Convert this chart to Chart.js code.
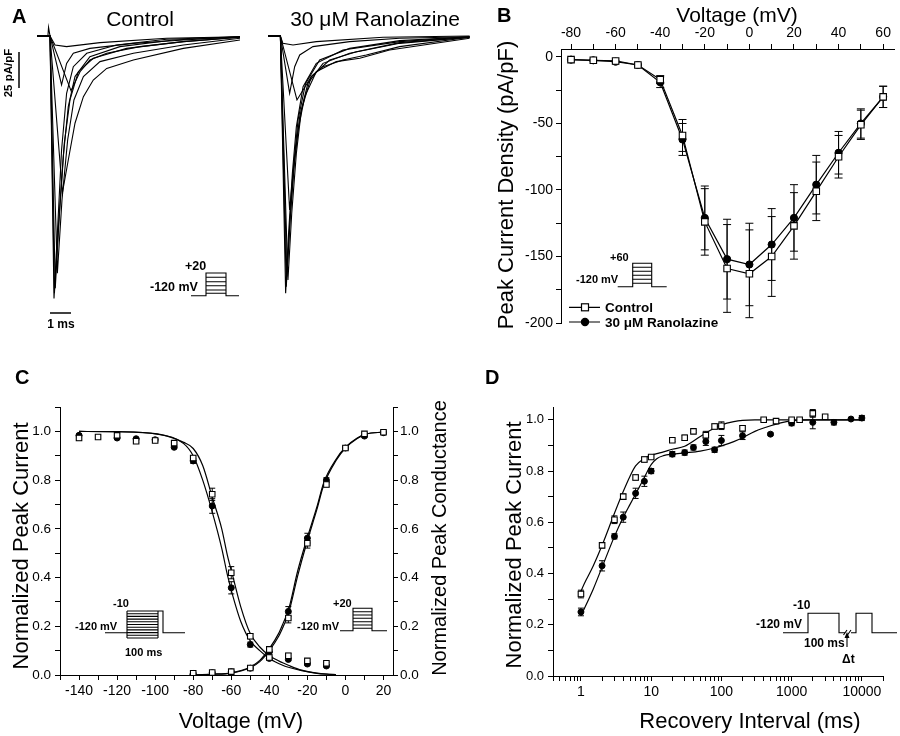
<!DOCTYPE html>
<html>
<head>
<meta charset="utf-8">
<script src="https://cdn.jsdelivr.net/npm/chart.js@4.4.1/dist/chart.umd.min.js"></script>
<style>
  body { margin: 0; background: #fff; width: 900px; height: 736px; position: relative; overflow: hidden; }
  canvas, svg { position: absolute; }
  svg { left: 0; top: 0; }
</style>
</head>
<body>
<canvas id="traceControl" width="203" height="285" style="left:37px;top:20px"></canvas>
<canvas id="traceRanolazine" width="202" height="285" style="left:268px;top:20px"></canvas>
<canvas id="ivChart" width="410" height="345" style="left:490px;top:0px"></canvas>
<canvas id="gvChart" width="450" height="341" style="left:0px;top:395px"></canvas>
<canvas id="recChart" width="410" height="341" style="left:490px;top:395px"></canvas>

<svg width="900" height="736" font-family="'Liberation Sans', Arial, sans-serif">
  <!-- panel letters -->
  <g font-weight="bold" font-size="20">
    <text x="12" y="23">A</text>
    <text x="497" y="22">B</text>
    <text x="15" y="384">C</text>
    <text x="485" y="384">D</text>
  </g>
  <!-- titles -->
  <g font-size="21" text-anchor="middle">
    <text x="140" y="26">Control</text>
    <text x="375" y="26">30 μM Ranolazine</text>
    <text x="737" y="22">Voltage (mV)</text>
    <text x="241" y="728" font-size="21.5">Voltage (mV)</text>
    <text x="750" y="728" font-size="22">Recovery Interval (ms)</text>
    <text transform="translate(513,185) rotate(-90)" font-size="22">Peak Current Density (pA/pF)</text>
    <text transform="translate(28,546) rotate(-90)" font-size="22">Normalized Peak Current</text>
    <text transform="translate(446,538) rotate(-90)" font-size="20">Normalized Peak Conductance</text>
    <text transform="translate(521,545) rotate(-90)" font-size="22">Normalized Peak Current</text>
  </g>
  <!-- scale bars (A) -->
  <g stroke="#000" stroke-width="1.5" fill="none">
    <path d="M19 52V88"/>
    <path d="M50 313H71"/>
  </g>
  <g font-weight="bold" font-size="11.5">
    <text transform="translate(12,73) rotate(-90)" text-anchor="middle">25 pA/pF</text>
    <text x="61" y="328" text-anchor="middle" font-size="12">1 ms</text>
  </g>
  <!-- voltage protocols -->
  <g stroke="#000" stroke-width="1.1" fill="none">
    <path d="M191 295.7H206V273H226V295.7H239"/>
    <path d="M206 277.3H226M206 281.7H226M206 285.7H226M206 290H226M206 293.3H226"/>
    <path d="M617.7 286.7H632.7V263.3H651.7V286.7H666.7"/>
    <path d="M632.7 267.3H651.7M632.7 271.3H651.7M632.7 275.3H651.7M632.7 279.3H651.7M632.7 283.3H651.7"/>
    <path d="M105 632.7H127M127 611V638M158 611V638M158 611H163V632.7H185"/>
    <path d="M127 611H158M127 613.7H158M127 616.4H158M127 619.1H158M127 621.8H158M127 624.5H158M127 627.2H158M127 629.9H158M127 632.6H158M127 635.3H158M127 638H158"/>
    <path d="M340 630.7H353V608.3H372V630.7H387"/>
    <path d="M353 611.7H372M353 615H372M353 618.3H372M353 621.7H372M353 625H372M353 628.3H372"/>
    <path d="M783 632.7H808V613.3H839V632.7H845M851 632.7H856V613.3H872V632.7H897"/>
    <path d="M843.5 635L847 630M847.5 635L851 630M847 647V637"/>
  </g>
  <polygon points="847,632 844.5,638 849.5,638" fill="#000"/>
  <g font-weight="bold">
    <text x="185" y="270" font-size="12.5">+20</text>
    <text x="150" y="291" font-size="12.5">-120 mV</text>
    <text x="610" y="261" font-size="11">+60</text>
    <text x="576" y="283" font-size="11">-120 mV</text>
    <text x="113" y="607" font-size="11">-10</text>
    <text x="75" y="630" font-size="11">-120 mV</text>
    <text x="125" y="656" font-size="11">100 ms</text>
    <text x="333" y="607" font-size="11">+20</text>
    <text x="297" y="630" font-size="11">-120 mV</text>
    <text x="793" y="609" font-size="12">-10</text>
    <text x="756" y="628" font-size="12">-120 mV</text>
    <text x="804" y="647" font-size="12">100 ms</text>
    <text x="842" y="663" font-size="12">Δt</text>
  </g>
  <!-- legend (B) -->
  <g stroke="#000" stroke-width="1.2">
    <path d="M569 307.3H600M569 322H600"/>
    <rect x="581.5" y="303.8" width="7" height="7" fill="#fff"/>
    <circle cx="585" cy="322" r="3.6" fill="#000"/>
  </g>
  <g font-weight="bold" font-size="13.5">
    <text x="605" y="312">Control</text>
    <text x="605" y="327">30 μM Ranolazine</text>
  </g>
</svg>

<script>
// ---- Panel A: current traces, time (ms) vs current density (pA/pF)
const controlTraces = [
  [[0, 0], [0.62, 0], [0.86, -6.3], [1.41, -7.4], [3.0, -4.6], [6.17, -1.6], [9.67, -0.5]],
  [[0, 0], [0.62, 0], [1.17, -34], [1.41, -19], [1.73, -12], [2.52, -8.6], [4.59, -5.1], [6.97, -2.8], [9.67, -0.5]],
  [[0, 0], [0.62, 0], [1.62, -38], [2.05, -24.8], [2.52, -16.7], [3.32, -12], [4.9, -7.4], [6.97, -3.9], [9.67, -0.9]],
  [[0, 0], [0.62, 0], [1.21, -108.8], [1.49, -86.1], [1.81, -60.6], [2.21, -42.1], [2.68, -30.6], [3.32, -22.5], [4.59, -16.7], [6.97, -8.6], [9.67, -2.8]],
  [[0, 0], [0.62, 0], [0.97, -164.8], [1.19, -113.9], [1.46, -72.2], [1.76, -44.4], [2.21, -28.2], [3.0, -17.8], [4.59, -12], [6.97, -6.3], [9.67, -1.6]],
  [[0, 0], [0.62, 0], [0.87, -175.2], [1.06, -125.5], [1.3, -74.5], [1.57, -44.4], [1.97, -24.8], [2.68, -15.5], [4.27, -8.6], [6.97, -3.9], [9.67, -0.9]],
  [[0, 0], [0.52, 0], [0.55, 6], [0.62, 0], [0.81, -182.2], [0.97, -137], [1.17, -79.2], [1.41, -39.8], [1.73, -21.3], [2.37, -12], [3.79, -6.3], [6.17, -2.3], [9.67, -0.5]],
  [[0, 0], [0.62, 0], [0.83, -178.7], [1.02, -132.4], [1.25, -83.8], [1.49, -49], [1.81, -28.2], [2.52, -14.4], [3.95, -7.4], [6.49, -2.8], [9.67, -0.5]]
];
const ranolazineTraces = [
  [[0, 0], [0.59, 0], [0.71, -5.1], [1.19, -6.3], [2.3, -3.9], [5.48, -0.9], [9.6, 0]],
  [[0, 0], [0.59, 0], [1.03, -39.8], [1.27, -21.3], [1.51, -13.2], [2.14, -7.4], [3.89, -3.9], [6.27, -1.6], [9.6, -0.5]],
  [[0, 0], [0.59, 0], [1.38, -44.4], [1.67, -37.5], [2.06, -28.2], [2.62, -21.3], [3.57, -16.7], [4.68, -13.2], [6.27, -7.4], [9.6, -0.9]],
  [[0, 0], [0.59, 0], [1.03, -120.8], [1.19, -95.4], [1.43, -65.3], [1.75, -42.1], [2.3, -24.8], [3.25, -17.8], [4.37, -15.5], [5.79, -9.7], [9.6, -1.6]],
  [[0, 0], [0.59, 0], [0.9, -167.1], [1.06, -125.5], [1.27, -86.1], [1.51, -56], [1.9, -32.9], [2.62, -19], [3.89, -12], [6.27, -5.1], [9.6, -0.9]],
  [[0, 0], [0.59, 0], [0.84, -178.7], [0.98, -137], [1.16, -95.4], [1.35, -63], [1.67, -35.2], [2.3, -19], [3.57, -9.7], [6.27, -3.9], [9.6, -0.5]],
  [[0, 0], [0.59, 0], [0.87, -174.1], [1.03, -132.4], [1.22, -90.7], [1.43, -58.3], [1.79, -32.9], [2.46, -16.7], [3.89, -8.6], [6.27, -3.2], [9.6, -0.5]],
  [[0, 0], [0.59, 0], [0.95, -169.4], [1.13, -123.1], [1.35, -81.5], [1.59, -51.4], [2.06, -28.2], [2.94, -16.7], [4.21, -10.9], [6.27, -4.6], [9.6, -0.9]]
];

// ---- Panel B: current-voltage relation
const ivVoltage = [-80, -70, -60, -50, -40, -30, -20, -10, 0, 10, 20, 30, 40, 50, 60];
const ivControl = [-2, -2.5, -3, -6, -17, -59, -124, -159, -163, -150, -127, -101, -75, -51, -30];
const ivControlSem = [0, 0, 0, 0, 3, 12, 25, 33, 33, 30, 25, 22, 16, 11, 8];
const ivRanolazine = [-2, -2.5, -3.5, -6, -19, -62, -121, -152, -156, -141, -121, -96, -72, -50, -30];
const ivRanolazineSem = [0, 0, 0, 0, 4, 12, 24, 30, 31, 27, 25, 22, 16, 11, 8];

// ---- Panel C: steady-state inactivation and activation
const inactVoltage = [-140, -130, -120, -110, -100, -90, -80, -70, -60, -50, -40, -30, -20, -10];
const inactControl = [0.973, 0.977, 0.984, 0.96, 0.963, 0.952, 0.891, 0.742, 0.42, 0.159, 0.072, 0.079, 0.058, 0.048];
const inactControlSem = [0.01, 0.005, 0.01, 0.005, 0.005, 0.005, 0.01, 0.025, 0.025, 0.01, 0.005, 0.01, 0.005, 0.005];
const inactRanolazine = [0.984, null, 0.973, 0.97, 0.966, 0.935, 0.879, 0.694, 0.358, 0.125, 0.068, 0.064, 0.045, 0.037];
const inactRanolazineSem = [0.005, 0, 0.005, 0.005, 0.005, 0.005, 0.01, 0.03, 0.025, 0.01, 0.005, 0.005, 0.005, 0.005];
const actVoltage = [-80, -70, -60, -50, -40, -30, -20, -10, 0, 10, 20];
const actControl = [0.007, 0.01, 0.014, 0.029, 0.105, 0.234, 0.541, 0.782, 0.932, 0.99, 0.997];
const actControlSem = [0, 0, 0, 0.005, 0.01, 0.02, 0.02, 0.01, 0.005, 0.005, 0.005];
const actRanolazine = [0.006, 0.009, 0.013, 0.028, 0.095, 0.261, 0.562, 0.8, 0.932, 0.981, 0.995];
const actRanolazineSem = [0, 0, 0, 0.005, 0.01, 0.02, 0.02, 0.01, 0.005, 0.005, 0.005];
const inactFitVoltage = [-140, -120, -99, -85, -80, -75, -70, -65, -62, -59, -55, -50, -45, -40, -33, -30, -23, -15, -10, -5];
const inactFitControl = [1.0, 0.999, 0.99, 0.955, 0.93, 0.86, 0.73, 0.6, 0.49, 0.4, 0.28, 0.17, 0.115, 0.08, 0.05, 0.04, 0.02, 0.008, 0.004, 0.002];
const inactFitRanolazine = [1.0, 0.999, 0.989, 0.95, 0.9, 0.8, 0.67, 0.52, 0.41, 0.32, 0.22, 0.14, 0.1, 0.068, 0.04, 0.032, 0.018, 0.007, 0.0035, 0.0015];
const actFitVoltage = [-82, -70, -60, -50, -45, -40, -35, -32.6, -30, -25, -20.4, -15, -11.4, -5, 0, 6, 11, 20];
const actFitControl = [0, 0.003, 0.008, 0.03, 0.055, 0.1, 0.16, 0.2, 0.25, 0.41, 0.541, 0.68, 0.78, 0.88, 0.932, 0.97, 0.99, 0.997];
const actFitRanolazine = [0, 0.0035, 0.009, 0.033, 0.06, 0.108, 0.172, 0.215, 0.265, 0.43, 0.555, 0.69, 0.79, 0.885, 0.935, 0.972, 0.99, 0.997];

// ---- Panel D: recovery from inactivation
const recControlTime = [1, 2, 3, 4, 6, 8, 10, 20, 30, 40, 60, 80, 100, 200, 400, 600, 1000, 1300, 2000, 3000];
const recControl = [0.32, 0.51, 0.61, 0.7, 0.775, 0.845, 0.855, 0.92, 0.93, 0.955, 0.94, 0.974, 0.977, 0.967, 1.0, 0.995, 1.0, 1.0, 1.025, 1.012];
const recControlSem = [0.015, 0.01, 0.015, 0.01, 0.01, 0.01, 0.005, 0.005, 0.01, 0.005, 0.015, 0.01, 0.015, 0.01, 0.005, 0.005, 0.005, 0.005, 0.015, 0.005];
const recRanolazineTime = [1, 2, 3, 4, 6, 8, 10, 20, 30, 40, 60, 80, 100, 200, 500, 1000, 2000, 4000, 7000, 10000];
const recRanolazine = [0.25, 0.43, 0.545, 0.62, 0.713, 0.76, 0.8, 0.866, 0.872, 0.892, 0.915, 0.883, 0.919, 0.938, 0.944, 0.987, 0.99, 0.99, 1.003, 1.007];
const recRanolazineSem = [0.015, 0.02, 0.01, 0.02, 0.02, 0.02, 0.01, 0.01, 0.01, 0.01, 0.015, 0.01, 0.02, 0.015, 0.005, 0.01, 0.025, 0.01, 0.005, 0.01];
const recFitTime = [0.95, 1, 1.5, 2, 3, 4, 5, 6, 8, 10, 12, 15, 20, 30, 50, 80, 100, 150, 200, 300, 400, 700, 1000, 2000, 5000, 10000];
const recFitControl = [0.31, 0.33, 0.43, 0.51, 0.635, 0.72, 0.78, 0.82, 0.85, 0.862, 0.868, 0.875, 0.885, 0.897, 0.935, 0.968, 0.98, 0.993, 0.998, 1.0, 1.0, 1.0, 1.0, 1.0, 1.0, 1.0];
const recFitRanolazine = [null, 0.235, 0.34, 0.425, 0.545, 0.62, 0.67, 0.71, 0.775, 0.825, 0.848, 0.86, 0.866, 0.871, 0.878, 0.89, 0.898, 0.915, 0.93, 0.955, 0.968, 0.988, 0.996, 1.0, 1.0, 1.0];
const recTickLabels = [1, 10, 100, 1000, 10000];

Chart.defaults.font.family = "'Liberation Sans', Arial, sans-serif";
Chart.defaults.color = '#000';
Chart.defaults.animation = false;
Chart.defaults.responsive = false;
Chart.defaults.devicePixelRatio = 1;
Chart.defaults.plugins.legend.display = false;
Chart.defaults.plugins.tooltip.enabled = false;

// vertical error bars (mean ± SEM), drawn under the points
Chart.register({
  id: 'errorBars',
  beforeDatasetsDraw(chart, args, opts) {
    const ctx = chart.ctx;
    const cap = opts.cap || 3;
    ctx.save();
    ctx.strokeStyle = '#000';
    ctx.lineWidth = 1;
    chart.data.datasets.forEach((ds, i) => {
      if (!ds.errors) return;
      const meta = chart.getDatasetMeta(i);
      const xs = chart.scales[meta.xAxisID];
      const ys = chart.scales[meta.yAxisID];
      ds.data.forEach((p, j) => {
        const e = ds.errors[j];
        if (!e || p.y == null) return;
        const x = xs.getPixelForValue(p.x);
        const top = ys.getPixelForValue(p.y + e);
        const bot = ys.getPixelForValue(p.y - e);
        ctx.beginPath();
        ctx.moveTo(x, top); ctx.lineTo(x, bot);
        ctx.moveTo(x - cap, top); ctx.lineTo(x + cap, top);
        ctx.moveTo(x - cap, bot); ctx.lineTo(x + cap, bot);
        ctx.stroke();
      });
    });
    ctx.restore();
  }
});

const pts = (xs, ys) => xs.map((x, i) => ({ x: x, y: ys[i] }));
const tenths = v => (Math.round(v * 10) % 2 === 0 ? v.toFixed(1) : '');
const axisGrid = { drawOnChartArea: false, color: '#000', tickLength: 5 };

const squares = (r) => ({ pointStyle: 'rect', pointRadius: r, pointBackgroundColor: '#fff', pointBorderColor: '#000', pointBorderWidth: 1.1 });
const dots = (r) => ({ pointStyle: 'circle', pointRadius: r, pointBackgroundColor: '#000', pointBorderColor: '#000', pointBorderWidth: 1 });
const fitLine = { showLine: true, borderColor: '#000', borderWidth: 1.2, pointRadius: 0, cubicInterpolationMode: 'monotone' };

function traceChart(id, traces, xMax) {
  new Chart(document.getElementById(id), {
    type: 'scatter',
    data: {
      datasets: traces.map(tr => ({
        data: tr.map(p => ({ x: p[0], y: p[1] })),
        showLine: true, borderColor: '#000', borderWidth: 1.1, pointRadius: 0
      }))
    },
    options: {
      layout: { padding: 0 },
      scales: {
        x: { type: 'linear', display: false, min: 0, max: xMax },
        y: { display: false, min: -186.8, max: 11.1 }
      }
    }
  });
}
traceChart('traceControl', controlTraces, 9.67);
traceChart('traceRanolazine', ranolazineTraces, 9.62);

// B
new Chart(document.getElementById('ivChart'), {
  type: 'scatter',
  data: {
    datasets: [
      Object.assign({ data: pts(ivVoltage, ivControl), errors: ivControlSem, showLine: true, borderColor: '#000', borderWidth: 1.2 }, squares(4.6)),
      Object.assign({ data: pts(ivVoltage, ivRanolazine), errors: ivRanolazineSem, showLine: true, borderColor: '#000', borderWidth: 1.2 }, dots(3.6))
    ]
  },
  options: {
    layout: { padding: { bottom: 22 } },
    plugins: { errorBars: { cap: 4 } },
    scales: {
      x: {
        type: 'linear', position: 'top', min: -84.5, max: 65,
        afterFit: s => { s.height = 49; },
        border: { color: '#000' },
        grid: axisGrid,
        ticks: { stepSize: 10, includeBounds: false, autoSkip: false, maxRotation: 0, padding: 2, font: { size: 14 },
          callback: v => (v % 20 === 0 ? v : '') }
      },
      y: {
        min: -200, max: 6,
        afterFit: s => { s.width = 71; },
        border: { color: '#000' },
        grid: axisGrid,
        ticks: { stepSize: 25, includeBounds: false, autoSkip: false, padding: 3, font: { size: 14 },
          callback: v => (v % 50 === 0 ? v : '') }
      }
    }
  }
});

// C
new Chart(document.getElementById('gvChart'), {
  type: 'scatter',
  data: {
    datasets: [
      Object.assign({ data: pts(inactVoltage, inactControl), errors: inactControlSem }, squares(3.9)),
      Object.assign({ data: pts(actVoltage, actControl), errors: actControlSem, yAxisID: 'y2' }, squares(3.9)),
      Object.assign({ data: pts(inactVoltage, inactRanolazine), errors: inactRanolazineSem }, dots(3)),
      Object.assign({ data: pts(actVoltage, actRanolazine), errors: actRanolazineSem, yAxisID: 'y2' }, dots(3)),
      Object.assign({ data: pts(inactFitVoltage, inactFitControl) }, fitLine),
      Object.assign({ data: pts(inactFitVoltage, inactFitRanolazine) }, fitLine),
      Object.assign({ data: pts(actFitVoltage, actFitControl), yAxisID: 'y2' }, fitLine),
      Object.assign({ data: pts(actFitVoltage, actFitRanolazine), yAxisID: 'y2' }, fitLine)
    ]
  },
  options: {
    layout: { padding: { top: 9 } },
    plugins: { errorBars: { cap: 3 } },
    scales: {
      x: {
        type: 'linear', min: -150, max: 25,
        afterFit: s => { s.height = 61; },
        border: { color: '#000' },
        grid: axisGrid,
        ticks: { stepSize: 10, includeBounds: false, autoSkip: false, maxRotation: 0, padding: 3, font: { size: 14 },
          callback: v => (v % 20 === 0 ? v : '') }
      },
      y: {
        position: 'left', min: 0, max: 1.1,
        afterFit: s => { s.width = 60; },
        border: { color: '#000' },
        grid: axisGrid,
        ticks: { stepSize: 0.1, includeBounds: false, autoSkip: false, padding: 4, font: { size: 13.5 }, callback: tenths }
      },
      y2: {
        position: 'right', min: 0, max: 1.1,
        afterFit: s => { s.width = 57; },
        border: { color: '#000' },
        grid: axisGrid,
        ticks: { stepSize: 0.1, includeBounds: false, autoSkip: false, padding: 2, font: { size: 13.5 }, callback: tenths }
      }
    }
  }
});

// D
new Chart(document.getElementById('recChart'), {
  type: 'scatter',
  data: {
    datasets: [
      Object.assign({ data: pts(recControlTime, recControl), errors: recControlSem }, squares(3.9)),
      Object.assign({ data: pts(recRanolazineTime, recRanolazine), errors: recRanolazineSem }, dots(3)),
      Object.assign({ data: pts(recFitTime, recFitControl) }, fitLine),
      Object.assign({ data: pts(recFitTime, recFitRanolazine) }, fitLine)
    ]
  },
  options: {
    layout: { padding: { top: 12, right: 17 } },
    plugins: { errorBars: { cap: 3 } },
    scales: {
      x: {
        type: 'logarithmic', min: 0.4, max: 20000,
        afterFit: s => { s.height = 60; },
        afterBuildTicks: s => {
          const ticks = [];
          [0.1, 1, 10, 100, 1000, 10000].forEach(dec => {
            for (let m = 1; m <= 9; m++) {
              const v = dec * m;
              if (v >= 0.4 && v <= 20000) ticks.push({ value: v });
            }
          });
          s.ticks = ticks;
        },
        border: { color: '#000' },
        grid: axisGrid,
        ticks: { autoSkip: false, maxRotation: 0, padding: 3, font: { size: 14 },
          callback: v => (recTickLabels.includes(v) ? String(v) : '') }
      },
      y: {
        min: 0, max: 1.05,
        afterFit: s => { s.width = 63; },
        border: { color: '#000' },
        grid: axisGrid,
        ticks: { stepSize: 0.1, includeBounds: false, autoSkip: false, padding: 4, font: { size: 13 }, callback: tenths }
      }
    }
  }
});
</script>
</body>
</html>
